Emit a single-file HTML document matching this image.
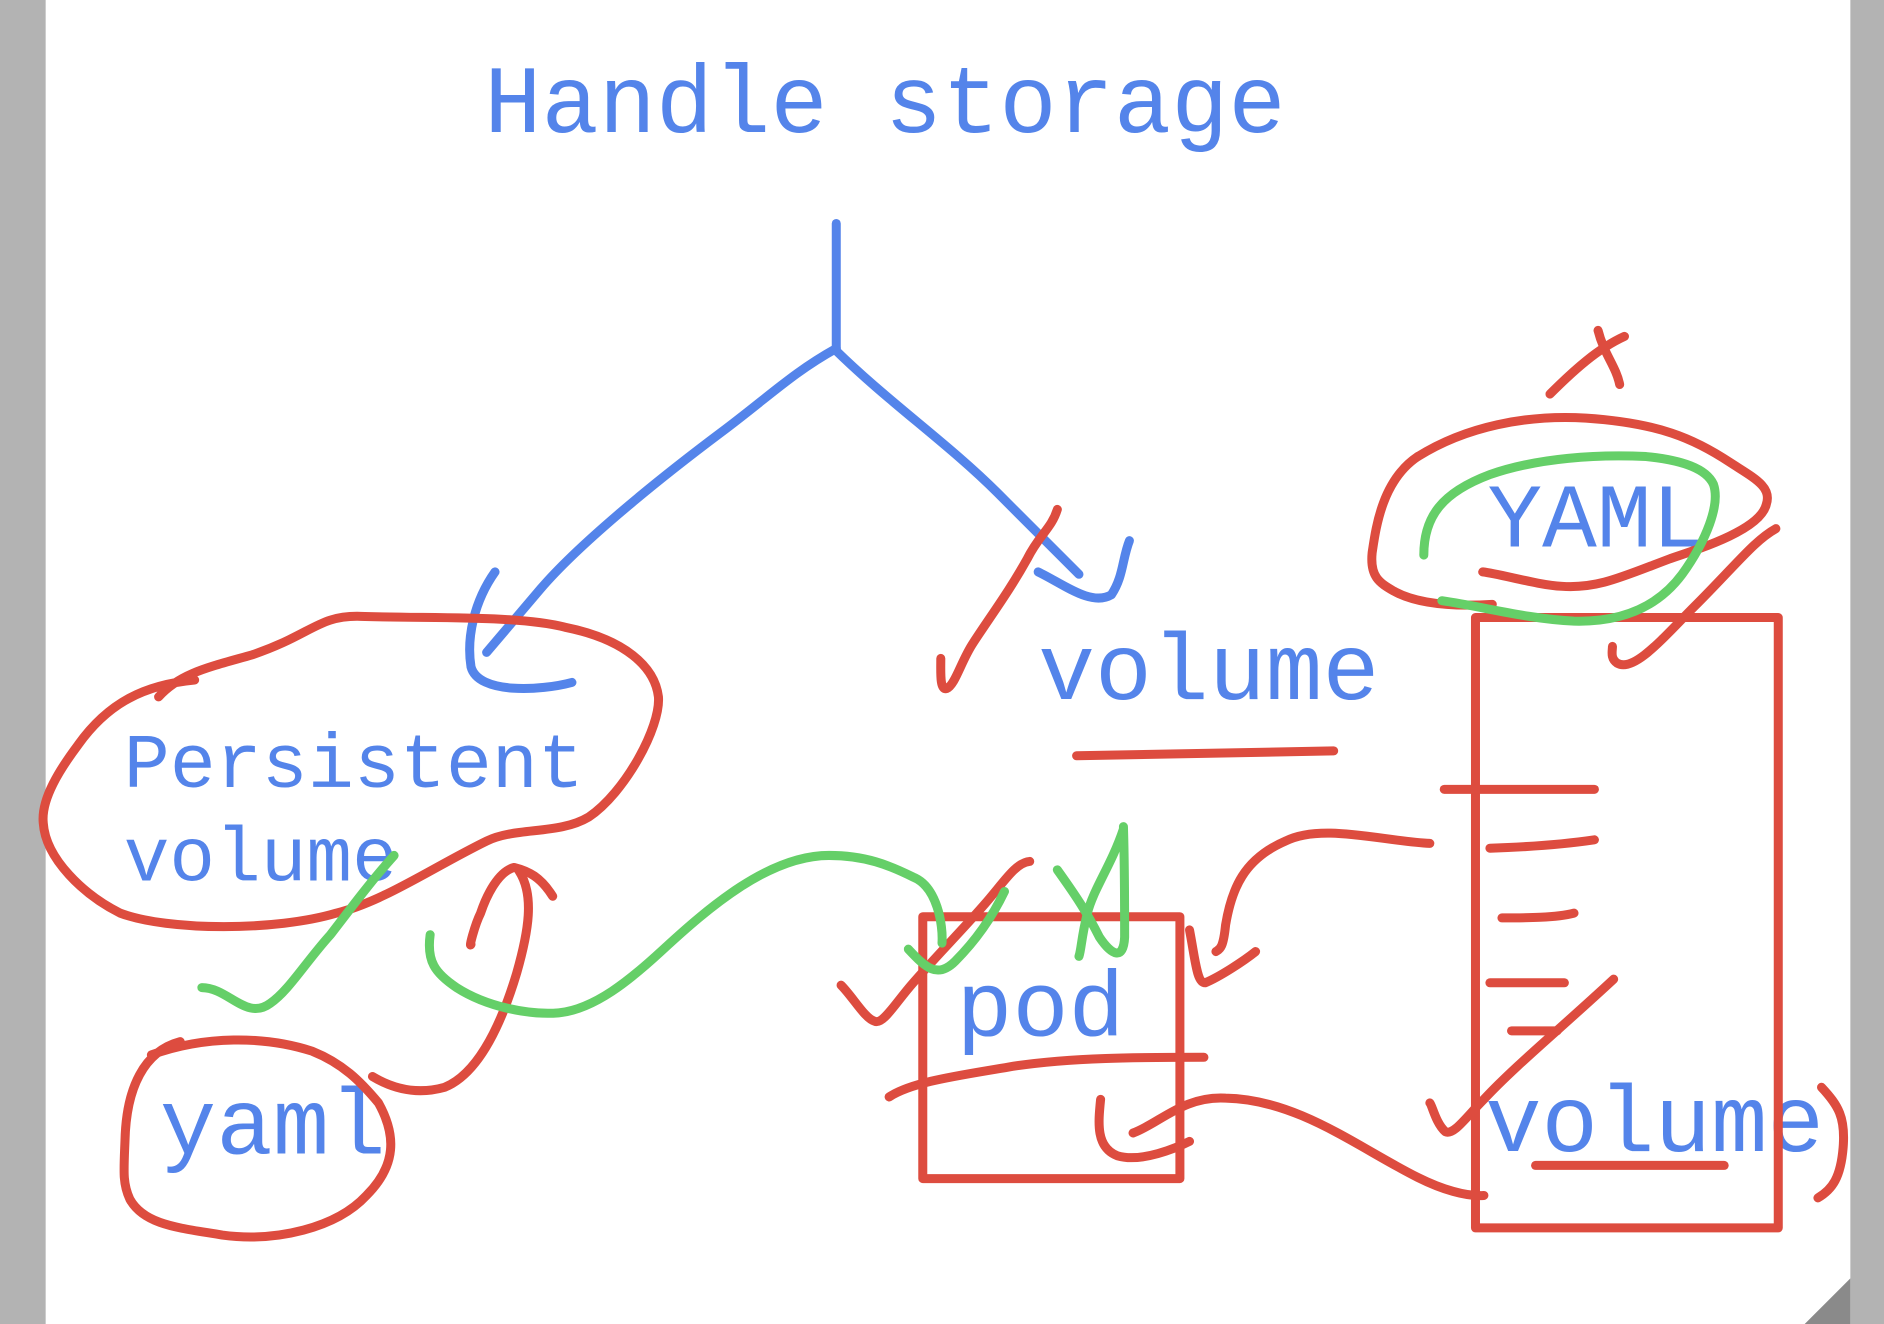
<!DOCTYPE html>
<html><head><meta charset="utf-8"><style>html,body{margin:0;padding:0;background:#fff}svg{display:block}</style></head>
<body>
<svg width="1884" height="1324" viewBox="0 0 1568 1102" preserveAspectRatio="none" xmlns="http://www.w3.org/2000/svg">
<rect x="0" y="0" width="1568" height="1102" fill="#fff"/>
<rect x="0" y="0" width="38" height="1102" fill="#b3b3b3"/>
<rect x="1540" y="0" width="28" height="1102" fill="#b3b3b3"/>
<polygon points="1540,1064 1540,1102 1502,1102" fill="#8a8a8a"/>
<g font-family="Liberation Mono, monospace" fill="#5484ea">
<text x="403" y="110" font-size="80" textLength="667" lengthAdjust="spacingAndGlyphs">Handle storage</text>
<text x="103" y="655" font-size="64" textLength="383" lengthAdjust="spacingAndGlyphs">Persistent</text>
<text x="103" y="733" font-size="64" textLength="228" lengthAdjust="spacingAndGlyphs">volume</text>
<text x="864" y="582" font-size="79" textLength="284" lengthAdjust="spacingAndGlyphs">volume</text>
<text x="1238" y="455" font-size="76" textLength="182" lengthAdjust="spacingAndGlyphs">YAML</text>
<text x="796" y="862" font-size="77" textLength="140" lengthAdjust="spacingAndGlyphs">pod</text>
<text x="133" y="960" font-size="78" textLength="188" lengthAdjust="spacingAndGlyphs">yaml</text>
<text x="1236" y="958" font-size="79" textLength="282" lengthAdjust="spacingAndGlyphs">volume</text>
</g>
<g fill="none" stroke-linecap="round" stroke-linejoin="round" stroke-width="7.5">
<g stroke="#5484ea">
<path d="M696 186 L696 290"/>
<path d="M696 290 C660 310 640 330 600 360 C540 405 480 455 450 490 L405 543"/>
<path d="M696 292 C740 335 790 370 830 410 C860 440 880 460 898 478"/>
<path d="M412 476 C395 500 388 530 392 555 C398 578 450 575 476 568"/>
<path d="M864 476 C885 486 908 505 925 495 C935 480 934 465 940 450"/>
</g>
<g stroke="#dd4c3f">
<path d="M132 580 C150 560 175 555 210 545 C260 528 265 512 300 513 C360 515 430 512 470 522 C520 532 545 555 548 580 C550 605 520 660 490 680 C465 695 430 688 405 700 C360 722 320 750 280 760 C230 775 140 775 100 760 C70 745 38 715 36 685 C34 665 50 640 65 620 C90 585 120 570 162 566"/>
<path d="M1180 380 C1220 355 1270 345 1320 348 C1380 352 1410 365 1440 385 C1460 398 1475 405 1470 420 C1465 440 1420 455 1390 465 C1350 480 1330 490 1300 488 C1280 487 1250 478 1234 476"/>
<path d="M1180 380 C1150 400 1145 440 1142 460 C1140 480 1148 485 1160 492 C1180 503 1210 505 1242 503"/>
<path d="M1290 328 C1310 308 1330 290 1352 280"/>
<path d="M1330 275 C1335 295 1345 305 1348 320"/>
<path d="M1478 440 C1460 450 1445 470 1410 505 C1385 530 1360 560 1346 552 C1340 548 1342 542 1342 538"/>
<path d="M880 424 C875 440 865 445 855 465 C840 492 825 512 810 535 C800 550 795 570 788 573 C782 575 783 560 783 548"/>
<path d="M896 629 L1110 625"/>
<rect x="1228" y="514" width="252" height="508"/>
<path d="M1202 657 L1327 657"/>
<path d="M1240 706 C1270 705 1300 703 1327 699"/>
<path d="M1250 764 C1270 764 1295 764 1310 760"/>
<path d="M1240 818 L1302 818"/>
<path d="M1258 858 L1296 858"/>
<path d="M1343 815 C1300 855 1260 888 1235 915 C1220 930 1210 945 1203 942 C1195 935 1192 920 1190 918"/>
<path d="M1278 970 L1435 970"/>
<path d="M1516 905 C1530 920 1536 930 1534 955 C1532 980 1525 990 1513 997"/>
<rect x="768" y="763" width="214" height="218"/>
<path d="M740 913 C760 900 800 895 840 888 C890 880 950 880 1002 880"/>
<path d="M916 915 C914 935 912 955 930 962 C950 968 980 955 990 950"/>
<path d="M943 943 C965 935 985 912 1020 914 C1080 915 1130 955 1180 980 C1200 990 1220 996 1235 995"/>
<path d="M1190 702 C1150 700 1100 685 1070 700 C1035 715 1025 740 1020 770 C1018 790 1015 790 1012 792"/>
<path d="M990 774 C995 800 996 818 1003 818 C1015 813 1035 800 1045 792"/>
<path d="M857 717 C845 718 835 735 820 752 C800 775 780 795 760 818 C745 835 735 853 728 850 C720 848 710 830 700 820"/>
<path d="M460 746 C450 730 440 725 428 722 C415 725 405 745 400 760 C395 770 390 790 392 786"/>
<path d="M432 725 C445 745 440 775 430 810 C415 860 395 895 370 905 C345 912 325 905 310 896"/>
<path d="M150 867 C120 875 105 905 104 950 C103 975 102 985 108 998 C120 1020 150 1022 185 1028 C230 1034 280 1022 305 995 C330 970 330 945 315 918 C300 900 285 885 260 875 C220 862 170 862 126 878"/>
</g>
<g stroke="#65cf68">
<path d="M1185 462 C1185 430 1200 410 1240 395 C1280 381 1330 378 1370 380 C1400 383 1420 390 1426 403 C1432 420 1420 450 1400 478 C1380 505 1350 518 1310 517 C1270 515 1235 505 1200 500"/>
<path d="M168 822 C190 822 205 850 225 835 C240 825 255 800 275 778 C295 752 310 732 328 712"/>
<path d="M358 778 C355 800 362 810 380 822 C405 838 440 845 465 843 C495 840 525 815 550 792 C590 755 640 712 690 712 C720 712 740 720 760 730 C780 738 785 770 784 785"/>
<path d="M756 790 C770 805 780 815 795 800 C810 785 825 765 836 742"/>
<path d="M880 724 C895 745 905 760 915 780 C925 795 935 800 936 780 C936 750 936 720 935 688"/>
<path d="M935 690 C925 720 910 740 905 760 C900 780 900 790 898 796"/>
</g>
</g>
</svg>
</body></html>
